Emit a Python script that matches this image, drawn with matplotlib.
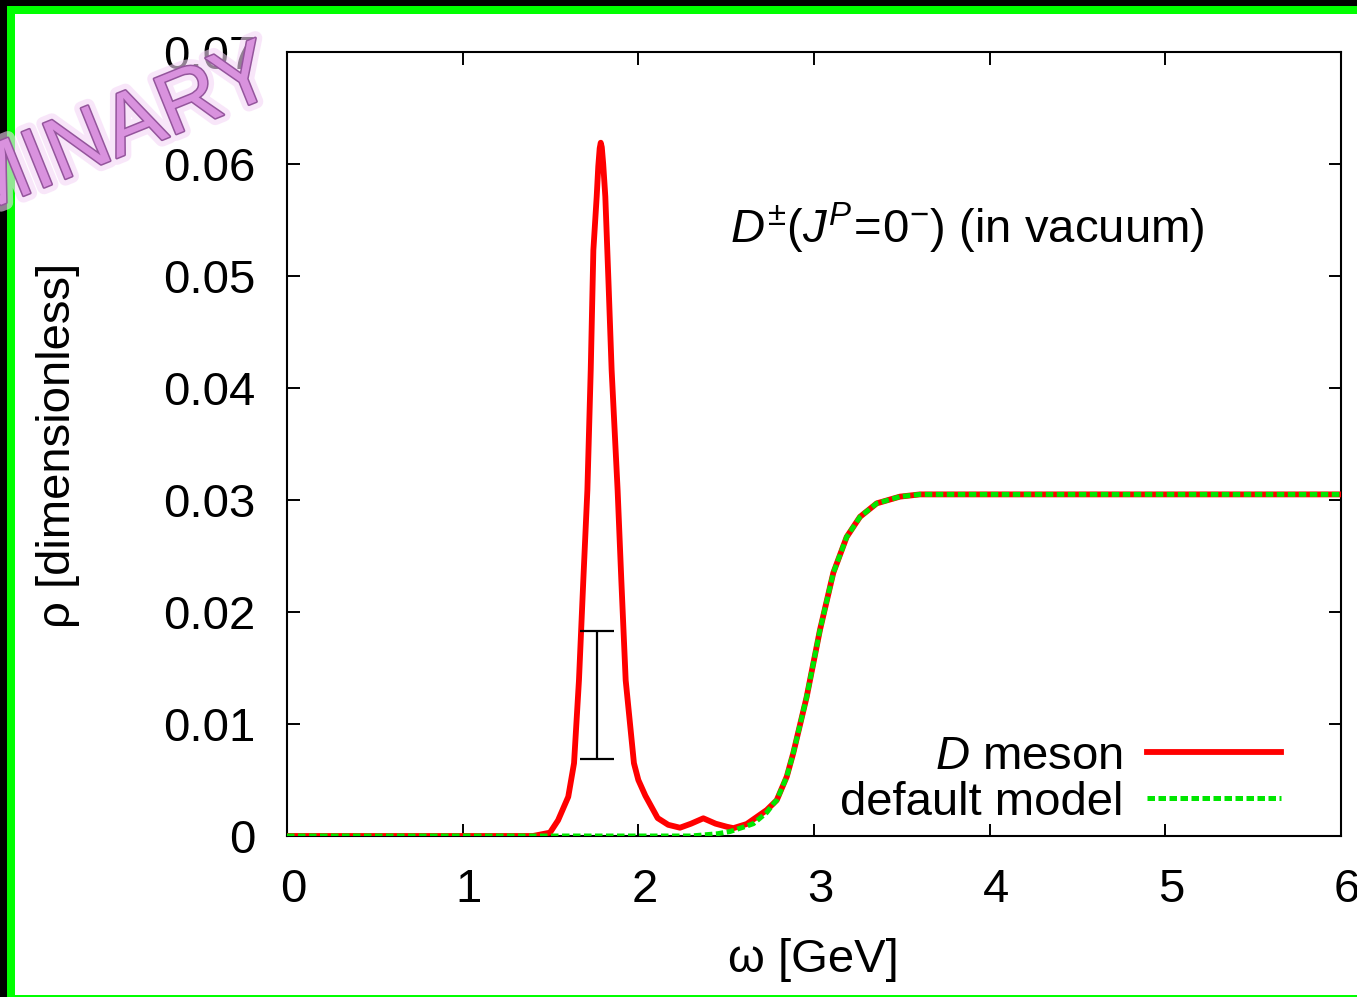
import numpy as np
import matplotlib
matplotlib.use("Agg")
import matplotlib.pyplot as plt
from matplotlib.patches import Rectangle
from matplotlib.transforms import ScaledTranslation
import matplotlib.patheffects as pe

plt.rcParams["font.family"] = ["Liberation Sans", "DejaVu Sans"]
plt.rcParams["mathtext.fontset"] = "custom"
plt.rcParams["mathtext.rm"] = "Liberation Sans"
plt.rcParams["mathtext.it"] = "Liberation Sans:italic"

# spectral function (omega in GeV, rho dimensionless)
omega_d = [0.0, 1.40, 1.497, 1.543, 1.601, 1.634, 1.662, 1.687, 1.710, 1.729,
           1.744, 1.763, 1.772, 1.780, 1.786, 1.792, 1.800, 1.812, 1.830, 1.848,
           1.882, 1.903, 1.928, 1.975, 2.00, 2.04, 2.11, 2.17, 2.237, 2.30,
           2.37, 2.44, 2.503, 2.541, 2.617, 2.731, 2.788, 2.845, 2.882, 2.958,
           3.034, 3.110, 3.186, 3.262, 3.357, 3.489, 3.603, 6.0]
rho_d = [0.0, 0.0, 0.0003, 0.0014, 0.0035, 0.0065, 0.0139, 0.0229, 0.0309, 0.0416,
         0.0523, 0.0571, 0.0598, 0.0614, 0.0619, 0.0615, 0.0600, 0.0571, 0.0495, 0.0416,
         0.0309, 0.0229, 0.0139, 0.0065, 0.0050, 0.0036, 0.0016, 0.0010, 0.00074, 0.0011,
         0.00158, 0.0011, 0.00083, 0.0007, 0.00107, 0.00232, 0.0032, 0.0053, 0.0074, 0.0124,
         0.0184, 0.0235, 0.0267, 0.0285, 0.0297, 0.0303, 0.0305, 0.0305]

omega_def = [0.0, 2.30, 2.45, 2.522, 2.60, 2.655, 2.731, 2.77, 2.788, 2.845,
             2.882, 2.958, 3.034, 3.110, 3.186, 3.262, 3.357, 3.489, 3.603, 6.0]
rho_def = [0.0, 0.0, 0.0002, 0.0004, 0.0008, 0.0011, 0.0021, 0.0029, 0.0032, 0.0053,
           0.0074, 0.0124, 0.0184, 0.0235, 0.0267, 0.0285, 0.0297, 0.0303, 0.0305, 0.0305]

# error bar on the peak
err_x = 1.766
err_y = 0.01262
err_dy = 0.00572

W, H = 1357, 997
fig = plt.figure(figsize=(W / 100, H / 100), dpi=100, facecolor="black")

# green frame + white page (behind everything)
fig.add_artist(Rectangle((7 / W, 0), 1, 1 - 6 / H, transform=fig.transFigure,
                         facecolor="#00ff00", edgecolor="none", zorder=-20))
fig.add_artist(Rectangle((15 / W, 2 / H), 1, 1 - 16 / H, transform=fig.transFigure,
                         facecolor="white", edgecolor="none", zorder=-19))

ax = fig.add_axes([287 / W, 1 - 836 / H, 1054 / W, 784 / H])
ax.set_zorder(1)
ax.set_facecolor("white")

ax.plot(omega_d, rho_d, color="#ff0000", lw=4.2, label=r"$D$ meson", zorder=3)
ax.plot(omega_def, rho_def, color="#00e600", lw=3.6, dashes=(1.5, 0.7),
        label="default model", zorder=4)
ax.errorbar([err_x], [err_y], yerr=[err_dy], fmt="none", ecolor="black",
            elinewidth=1.6, capsize=12.5, capthick=1.6, zorder=5)

ax.set_xlim(0, 6)
ax.set_ylim(0, 0.07)
ax.set_xticks(np.arange(0, 7, 1))
ax.set_yticks(np.arange(0, 0.071, 0.01))
ax.set_xticklabels([str(i) for i in range(7)])
ax.set_yticklabels(["0", "0.01", "0.02", "0.03", "0.04", "0.05", "0.06", "0.07"])
ax.tick_params(direction="in", length=9, width=1.4, labelsize=34, pad=23,
               top=True, right=True)
# gnuplot puts the x labels a touch right of the ticks
shift = ScaledTranslation(6 / 100, 0, fig.dpi_scale_trans)
for lab in ax.get_xticklabels():
    lab.set_transform(lab.get_transform() + shift)
for s in ax.spines.values():
    s.set_linewidth(1.5)

ax.text(2.52, 0.0529, r"$D^{\pm}\mathrm{(}J^{P}\!\mathrm{=}\!\mathrm{0}^{\mathrm{-}}\mathrm{)}$ (in vacuum)",
        fontsize=34, va="baseline", ha="left")

leg = ax.legend(loc="lower right", bbox_to_anchor=(0.948, 0.008), markerfirst=False,
                frameon=False, fontsize=34, handlelength=2.85, handletextpad=0.5,
                labelspacing=0.05, borderpad=0.1, borderaxespad=0)

fig.text(58 / W, 1 - 445 / H, "ρ [dimensionless]", rotation=90, fontsize=34,
         ha="center", va="center")
fig.text(813 / W, 1 - 960 / H, "ω [GeV]", fontsize=34, ha="center", va="center")

# watermark
fig.text(280 / W, 1 - 92 / H, "PRELIMINARY", fontsize=62, rotation=22,
         rotation_mode="anchor", ha="right", va="baseline", color="#d992de",
         zorder=10,
         path_effects=[pe.Stroke(linewidth=10, foreground="#f4d6f6", alpha=0.6),
                       pe.Stroke(linewidth=2.2, foreground="#94559c"),
                       pe.Normal()])

fig.savefig("out.png", dpi=100, facecolor=fig.get_facecolor())
